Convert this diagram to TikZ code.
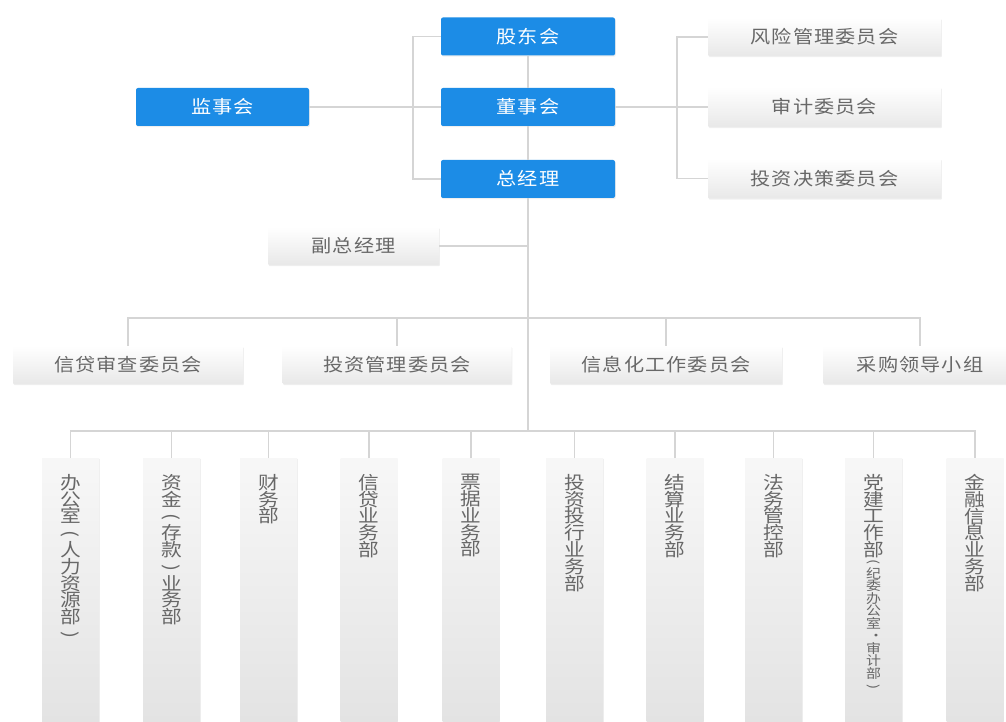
\documentclass[tikz,border=0pt]{standalone}
\usepackage{fontspec}
\newfontfamily\cjk{Noto Sans CJK SC}[FakeStretch=1.12,LetterSpace=6]
\newfontfamily\cjkv{Noto Sans CJK SC}[FakeStretch=1.15]
\usetikzlibrary{shadows}
\definecolor{bossblue}{HTML}{1C8CE6}
\definecolor{linegray}{HTML}{D5D5D5}
\definecolor{txtgray}{HTML}{686868}
\newcommand\vlp{\rotatebox[origin=c]{-90}{(}}
\newcommand\vrp{\rotatebox[origin=c]{-90}{)}}
\begin{document}
\begin{tikzpicture}[x=1pt,y=-1pt,
  conn/.style={draw=linegray,line width=1.6pt},
  softshadow/.style={drop shadow={opacity=0.12,shadow xshift=0.8pt,shadow yshift=-1.2pt}},
  bluebox/.style={fill=bossblue,rounded corners=2pt,text=white,inner sep=0pt,
    minimum width=174pt,minimum height=38pt,font=\cjk\fontsize{18}{18}\selectfont,softshadow},
  graybox/.style={top color=white,bottom color=black!9,rounded corners=1pt,text=txtgray,inner sep=0pt,
    minimum height=38pt,font=\cjk\fontsize{18}{18}\selectfont,softshadow},
  colbox/.style={top color=black!3,bottom color=black!11,anchor=north,minimum width=57pt,
    minimum height=264pt,inner sep=0pt,softshadow},
  coltext/.style={anchor=north,yshift=-16pt,align=center,text=txtgray,inner sep=0pt,
    font=\cjkv\fontsize{18}{16.8}\selectfont},
  colsmall/.style={anchor=north,yshift=-101pt,align=center,text=txtgray,inner sep=0pt,
    font=\cjkv\fontsize{13}{12.5}\selectfont}
]
\useasboundingbox[fill=white] (0,0) rectangle (1006,722);

% top level
\node[bluebox] (gd) at (528,36.5) {股东会};
\node[bluebox] (ds) at (528,107) {董事会};
\node[bluebox] (zjl) at (528,179) {总经理};
\node[bluebox,minimum width=173pt] (jsh) at (222.5,107) {监事会};

\node[graybox,minimum width=233pt] (fx) at (824.5,37) {风险管理委员会};
\node[graybox,minimum width=233pt,minimum height=40pt] (sj) at (824.5,107) {审计委员会};
\node[graybox,minimum width=233pt,minimum height=40pt] (tz) at (824.5,178.5) {投资决策委员会};

\node[graybox,minimum width=171pt] (fzjl) at (353.5,246) {副总经理};

% committees
\node[graybox,minimum width=230pt] (c1) at (128,365) {信贷审查委员会};
\node[graybox,minimum width=229pt] (c2) at (397,365) {投资管理委员会};
\node[graybox,minimum width=232pt] (c3) at (666,365) {信息化工作委员会};
\node[graybox,minimum width=194pt] (c4) at (920,365) {采购领导小组};

% departments
\node[colbox,label={[coltext]north:{办\\公\\室\\\vlp\\人\\力\\资\\源\\部\\\vrp}}] (d1) at (70.5,458) {};
\node[colbox,label={[coltext]north:{资\\金\\\vlp\\存\\款\\\vrp\\业\\务\\部}}] (d2) at (171.5,458) {};
\node[colbox,label={[coltext]north:{财\\务\\部}}] (d3) at (268.5,458) {};
\node[colbox,label={[coltext]north:{信\\贷\\业\\务\\部}}] (d4) at (369,458) {};
\node[colbox,label={[coltext]north:{票\\据\\业\\务\\部}}] (d5) at (471,458) {};
\node[colbox,label={[coltext]north:{投\\资\\投\\行\\业\\务\\部}}] (d6) at (574.5,458) {};
\node[colbox,label={[coltext]north:{结\\算\\业\\务\\部}}] (d7) at (675,458) {};
\node[colbox,label={[coltext]north:{法\\务\\管\\控\\部}}] (d8) at (773.5,458) {};
\node[colbox,label={[coltext]north:{党\\建\\工\\作\\部}},
  label={[colsmall]north:{\vlp\\纪\\委\\办\\公\\室\\\hspace*{5pt}·\\审\\计\\部\\\vrp}}] (d9) at (873.5,458) {};
\node[colbox,label={[coltext]north:{金\\融\\信\\息\\业\\务\\部}}] (d10) at (975,458) {};

% connector helper points
\coordinate (lb) at (413,107);
\coordinate (rb) at (677,107);
\coordinate (cbus) at (528,318);
\coordinate (dbus) at (528,431);

% connectors
\draw[conn] (gd.west) -| (lb) |- (zjl.west);
\draw[conn] (jsh.east) -- (ds.west);
\draw[conn] (gd.south) -- (ds.north);
\draw[conn] (ds.south) -- (zjl.north);
\draw[conn] (zjl.south) -- (dbus);
\draw[conn] (ds.east) -- (sj.west);
\draw[conn] (fx.west) -| (rb) |- (tz.west);
\draw[conn] (fzjl.east) -- (fzjl.east -| zjl.south);

\draw[conn] (c1.north) |- (cbus) -| (c4.north);
\draw[conn] (c2.north) -- (c2.north |- cbus);
\draw[conn] (c3.north) -- (c3.north |- cbus);

\draw[conn] (d1.north) |- (dbus) -| (d10.north);
\foreach \d in {d2,d3,d4,d5,d6,d7,d8,d9}
  \draw[conn] (\d.north) -- (\d.north |- dbus);
\end{tikzpicture}
\end{document}
